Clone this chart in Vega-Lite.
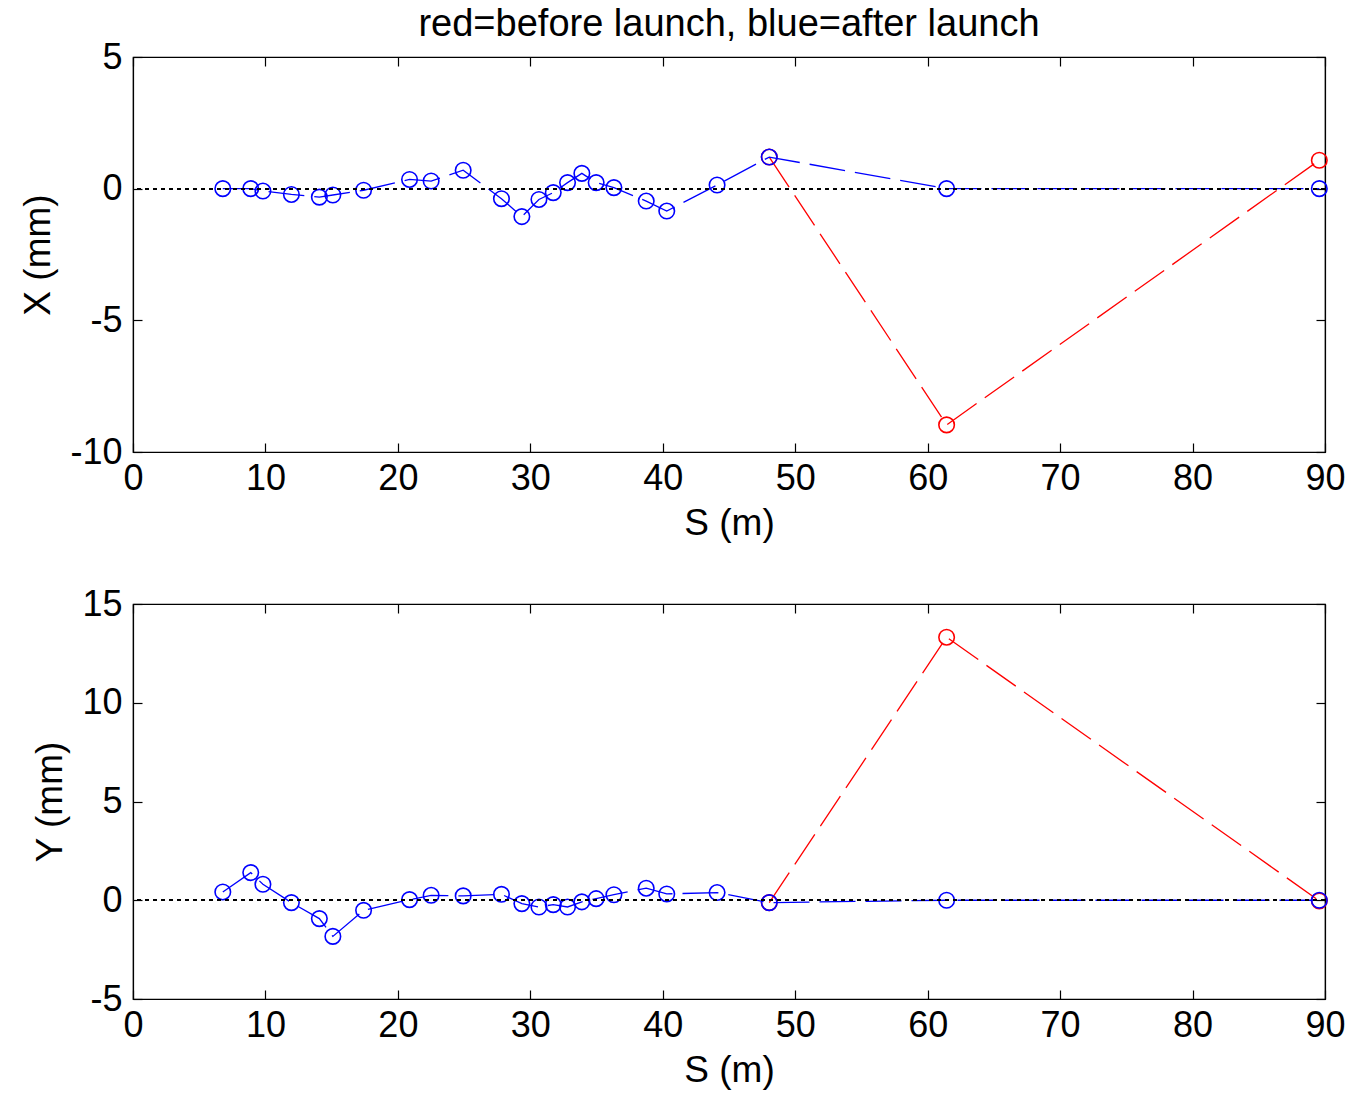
{
  "$schema": "https://vega.github.io/schema/vega-lite/v6.json",
  "padding": {"left": 19, "top": 5, "right": 5, "bottom": 5},
  "background": "white",
  "datasets": {
    "xdata": [
      {"S": 6.78, "v": 0.0, "series": "after"},
      {"S": 8.89, "v": 0.0, "series": "after"},
      {"S": 9.81, "v": -0.09, "series": "after"},
      {"S": 11.96, "v": -0.22, "series": "after"},
      {"S": 14.07, "v": -0.32, "series": "after"},
      {"S": 15.09, "v": -0.24, "series": "after"},
      {"S": 17.41, "v": -0.06, "series": "after"},
      {"S": 20.88, "v": 0.35, "series": "after"},
      {"S": 22.51, "v": 0.29, "series": "after"},
      {"S": 24.93, "v": 0.70, "series": "after"},
      {"S": 27.82, "v": -0.38, "series": "after"},
      {"S": 29.36, "v": -1.06, "series": "after"},
      {"S": 30.65, "v": -0.41, "series": "after"},
      {"S": 31.73, "v": -0.15, "series": "after"},
      {"S": 32.81, "v": 0.23, "series": "after"},
      {"S": 33.89, "v": 0.58, "series": "after"},
      {"S": 34.97, "v": 0.23, "series": "after"},
      {"S": 36.31, "v": 0.04, "series": "after"},
      {"S": 38.75, "v": -0.47, "series": "after"},
      {"S": 40.3, "v": -0.85, "series": "after"},
      {"S": 44.1, "v": 0.14, "series": "after"},
      {"S": 48.04, "v": 1.20, "series": "after"},
      {"S": 61.43, "v": 0.0, "series": "after"},
      {"S": 89.57, "v": 0.0, "series": "after"},
      {"S": 48.04, "v": 1.20, "series": "before"},
      {"S": 61.43, "v": -8.97, "series": "before"},
      {"S": 89.57, "v": 1.08, "series": "before"}
    ],
    "ydata": [
      {"S": 6.78, "v": 0.42, "series": "after"},
      {"S": 8.89, "v": 1.40, "series": "after"},
      {"S": 9.81, "v": 0.81, "series": "after"},
      {"S": 11.96, "v": -0.12, "series": "after"},
      {"S": 14.07, "v": -0.93, "series": "after"},
      {"S": 15.09, "v": -1.83, "series": "after"},
      {"S": 17.41, "v": -0.51, "series": "after"},
      {"S": 20.88, "v": 0.03, "series": "after"},
      {"S": 22.51, "v": 0.25, "series": "after"},
      {"S": 24.93, "v": 0.22, "series": "after"},
      {"S": 27.82, "v": 0.30, "series": "after"},
      {"S": 29.36, "v": -0.17, "series": "after"},
      {"S": 30.65, "v": -0.34, "series": "after"},
      {"S": 31.73, "v": -0.22, "series": "after"},
      {"S": 32.81, "v": -0.34, "series": "after"},
      {"S": 33.89, "v": -0.08, "series": "after"},
      {"S": 34.97, "v": 0.08, "series": "after"},
      {"S": 36.31, "v": 0.28, "series": "after"},
      {"S": 38.75, "v": 0.61, "series": "after"},
      {"S": 40.3, "v": 0.32, "series": "after"},
      {"S": 44.1, "v": 0.39, "series": "after"},
      {"S": 48.04, "v": -0.12, "series": "after"},
      {"S": 61.43, "v": 0.0, "series": "after"},
      {"S": 89.57, "v": 0.0, "series": "after"},
      {"S": 48.04, "v": -0.12, "series": "before"},
      {"S": 61.43, "v": 13.32, "series": "before"},
      {"S": 89.57, "v": -0.03, "series": "before"}
    ]
  },
  "spacing": 43,
  "vconcat": [
    {
      "width": 1192,
      "height": 395,
      "data": {"name": "xdata"},
      "title": {"text": "red=before launch, blue=after launch", "fontSize": 38, "font": "Liberation Sans", "fontWeight": "normal", "color": "black", "offset": -5},
      "resolve": {"axis": {"x": "independent", "y": "independent"}},
      "layer": [
        {
          "transform": [{"filter": "datum.series == 'before'"}],
          "mark": {"type": "line", "color": "#ff0000", "strokeWidth": 1.3, "strokeDash": [36, 10]},
          "encoding": {
            "x": {"field": "S", "type": "quantitative", "scale": {"domain": [0, 90], "nice": false, "zero": false},
                  "axis": {"orient": "bottom", "title": "S (m)", "values": [0, 10, 20, 30, 40, 50, 60, 70, 80, 90], "labelPadding": 18, "titlePadding": 9}},
            "y": {"field": "v", "type": "quantitative", "scale": {"domain": [-10, 5], "nice": false, "zero": false},
                  "axis": {"orient": "left", "title": "X (mm)", "values": [-10, -5, 0, 5], "labelPadding": 20, "titlePadding": 12}}
          }
        },
        {
          "transform": [{"filter": "datum.series == 'before'"}],
          "mark": {"type": "point", "shape": "circle", "filled": false, "color": "#ff0000", "size": 240, "strokeWidth": 1.6, "opacity": 1},
          "encoding": {
            "x": {"field": "S", "type": "quantitative", "axis": null},
            "y": {"field": "v", "type": "quantitative", "axis": null}
          }
        },
        {
          "transform": [{"filter": "datum.series == 'after'"}],
          "mark": {"type": "line", "color": "#0000ff", "strokeWidth": 1.3, "strokeDash": [36, 10]},
          "encoding": {
            "x": {"field": "S", "type": "quantitative", "axis": null},
            "y": {"field": "v", "type": "quantitative", "axis": null}
          }
        },
        {
          "transform": [{"filter": "datum.series == 'after'"}],
          "mark": {"type": "point", "shape": "circle", "filled": false, "color": "#0000ff", "size": 240, "strokeWidth": 1.6, "opacity": 1},
          "encoding": {
            "x": {"field": "S", "type": "quantitative", "axis": null},
            "y": {"field": "v", "type": "quantitative", "axis": null}
          }
        },
        {
          "mark": {"type": "rule", "color": "black", "strokeWidth": 1.3, "strokeDash": [4, 4]},
          "encoding": {
            "y": {"datum": 0, "type": "quantitative", "axis": null}
          }
        },
        {
          "mark": {"type": "point", "opacity": 0},
          "encoding": {
            "x": {"field": "S", "type": "quantitative",
                  "axis": {"orient": "top", "labels": false, "title": null, "values": [0, 10, 20, 30, 40, 50, 60, 70, 80, 90]}},
            "y": {"field": "v", "type": "quantitative",
                  "axis": {"orient": "right", "labels": false, "title": null, "values": [-10, -5, 0, 5]}}
          }
        }
      ]
    },
    {
      "width": 1192,
      "height": 395,
      "data": {"name": "ydata"},
      "resolve": {"axis": {"x": "independent", "y": "independent"}},
      "layer": [
        {
          "transform": [{"filter": "datum.series == 'before'"}],
          "mark": {"type": "line", "color": "#ff0000", "strokeWidth": 1.3, "strokeDash": [36, 10]},
          "encoding": {
            "x": {"field": "S", "type": "quantitative", "scale": {"domain": [0, 90], "nice": false, "zero": false},
                  "axis": {"orient": "bottom", "title": "S (m)", "values": [0, 10, 20, 30, 40, 50, 60, 70, 80, 90], "labelPadding": 18, "titlePadding": 9}},
            "y": {"field": "v", "type": "quantitative", "scale": {"domain": [-5, 15], "nice": false, "zero": false},
                  "axis": {"orient": "left", "title": "Y (mm)", "values": [-5, 0, 5, 10, 15], "labelPadding": 20, "titlePadding": 12}}
          }
        },
        {
          "transform": [{"filter": "datum.series == 'before'"}],
          "mark": {"type": "point", "shape": "circle", "filled": false, "color": "#ff0000", "size": 240, "strokeWidth": 1.6, "opacity": 1},
          "encoding": {
            "x": {"field": "S", "type": "quantitative", "axis": null},
            "y": {"field": "v", "type": "quantitative", "axis": null}
          }
        },
        {
          "transform": [{"filter": "datum.series == 'after'"}],
          "mark": {"type": "line", "color": "#0000ff", "strokeWidth": 1.3, "strokeDash": [36, 10]},
          "encoding": {
            "x": {"field": "S", "type": "quantitative", "axis": null},
            "y": {"field": "v", "type": "quantitative", "axis": null}
          }
        },
        {
          "transform": [{"filter": "datum.series == 'after'"}],
          "mark": {"type": "point", "shape": "circle", "filled": false, "color": "#0000ff", "size": 240, "strokeWidth": 1.6, "opacity": 1},
          "encoding": {
            "x": {"field": "S", "type": "quantitative", "axis": null},
            "y": {"field": "v", "type": "quantitative", "axis": null}
          }
        },
        {
          "mark": {"type": "rule", "color": "black", "strokeWidth": 1.3, "strokeDash": [4, 4]},
          "encoding": {
            "y": {"datum": 0, "type": "quantitative", "axis": null}
          }
        },
        {
          "mark": {"type": "point", "opacity": 0},
          "encoding": {
            "x": {"field": "S", "type": "quantitative",
                  "axis": {"orient": "top", "labels": false, "title": null, "values": [0, 10, 20, 30, 40, 50, 60, 70, 80, 90]}},
            "y": {"field": "v", "type": "quantitative",
                  "axis": {"orient": "right", "labels": false, "title": null, "values": [-5, 0, 5, 10, 15]}}
          }
        }
      ]
    }
  ],
  "config": {
    "font": "Liberation Sans",
    "view": {"stroke": "black", "strokeWidth": 1.2},
    "axis": {
      "grid": false,
      "domainColor": "black",
      "domainWidth": 1.2,
      "tickColor": "black",
      "tickWidth": 1.2,
      "tickSize": -9,
      "labelColor": "black",
      "labelFont": "Liberation Sans",
      "labelFontSize": 36,
      "labelFlush": false,
      "labelOverlap": false,
      "labelExpr": "toString(datum.value)",
      "titleColor": "black",
      "titleFont": "Liberation Sans",
      "titleFontSize": 37,
      "titleFontWeight": "normal"
    }
  }
}
